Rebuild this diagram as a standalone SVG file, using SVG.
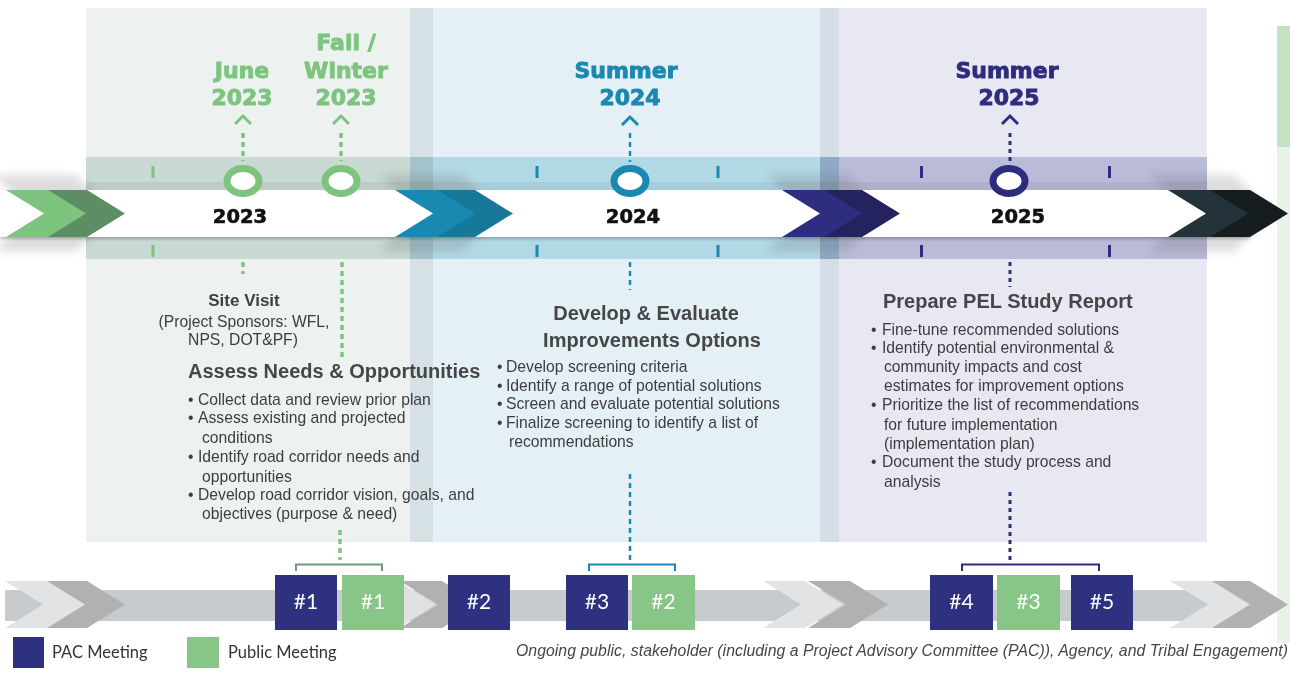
<svg xmlns="http://www.w3.org/2000/svg" width="1290" height="677" viewBox="0 0 1290 677">
<style>
.date{font-family:"DejaVu Sans","Liberation Sans",sans-serif;font-weight:bold;font-size:22px;text-anchor:middle;stroke-width:0.9px;paint-order:stroke}
.year{font-family:"DejaVu Sans","Liberation Sans",sans-serif;font-weight:bold;font-size:19.5px;text-anchor:middle;fill:#111;stroke:#111;stroke-width:0.6px}
.head{font-family:"Liberation Sans",Arial,sans-serif;font-weight:bold;font-size:20px;fill:#464646}
.sub{font-family:"Liberation Sans",Arial,sans-serif;font-weight:bold;font-size:17px;fill:#3f3f3f;text-anchor:middle}
.body{font-family:"Liberation Sans",Arial,sans-serif;font-size:15.7px;fill:#3d3d3d}
.mid{text-anchor:middle}
.g{fill:#7dc47f;stroke:#7dc47f}.b{fill:#1a88b0;stroke:#1a88b0}.p{fill:#2e2c7e;stroke:#2e2c7e}
.tk{stroke:none}
.dg{stroke:#7dc47f;stroke-width:3.5;stroke-dasharray:5 4;fill:none}
.db{stroke:#1a88b0;stroke-width:2.5;stroke-dasharray:5 4;fill:none}
.dp{stroke:#2e2c7e;stroke-width:3;stroke-dasharray:4 4;fill:none}
.hg{stroke:#7dc47f;stroke-width:3;fill:none}
.hb{stroke:#1a88b0;stroke-width:3;fill:none}
.hp{stroke:#2e2c7e;stroke-width:3;fill:none}
.ring{fill:#fff;stroke-width:7}
.pac{fill:#2e3080}.pub{fill:#88c687}
.num{font-family:Lato,"Open Sans",sans-serif;font-size:21px;fill:#fff;text-anchor:middle}
.leg{font-family:Lato,"Open Sans",sans-serif;font-size:16.5px;fill:#333}
.note{font-family:"Liberation Sans",Arial,sans-serif;font-style:italic;font-size:15.8px;fill:#454545}
</style>
<defs>
<path id="chev" d="M0,0 H42 L80,23.5 L42,47 H0 L38,23.5 Z"/>
<path id="chevB" d="M0,0 H42 L80,23.5 L42,47 H0 L38,23.5 Z"/>
<filter id="blur" x="-20%" y="-50%" width="140%" height="200%"><feGaussianBlur stdDeviation="4"/></filter>
<filter id="sh" x="-5%" y="-30%" width="110%" height="160%"><feDropShadow dx="0" dy="2" stdDeviation="1.5" flood-color="#000" flood-opacity="0.25"/></filter>
</defs>
<rect width="1290" height="677" fill="#fff"/>

<g id="panels">
<rect x="86" y="8" width="324" height="534" fill="#edf1f0"/>
<rect x="410" y="8" width="23" height="534" fill="#d6e1e6"/>
<rect x="433" y="8" width="387" height="534" fill="#e4f0f6"/>
<rect x="820" y="8" width="19" height="534" fill="#d4dde8"/>
<rect x="839" y="8" width="368" height="534" fill="#e8e8f2"/>
<rect x="86" y="157" width="324" height="102" fill="#c9d9d3"/>
<rect x="410" y="157" width="23" height="102" fill="#a3c3cc"/>
<rect x="433" y="157" width="387" height="102" fill="#b2d9e6"/>
<rect x="820" y="157" width="19" height="102" fill="#8eaac6"/>
<rect x="839" y="157" width="368" height="102" fill="#babad9"/>
<rect x="86" y="182" width="1121" height="8" fill="#000" opacity="0.05"/>
<rect x="1277" y="26" width="13" height="121" fill="#c3e1c3"/>
<rect x="1277" y="147" width="13" height="496" fill="#e7f3e7"/>
</g>

<g id="timeline">
<g filter="url(#blur)" opacity="0.22" fill="#666">
<use href="#chev" transform="translate(-6,175) scale(1,1.62)"/>
<use href="#chev" transform="translate(34,175) scale(1,1.62)"/>
<use href="#chev" transform="translate(380,175) scale(1,1.62)"/>
<use href="#chev" transform="translate(420,175) scale(1,1.62)"/>
<use href="#chev" transform="translate(767,175) scale(1,1.62)"/>
<use href="#chev" transform="translate(805,175) scale(1,1.62)"/>
<use href="#chev" transform="translate(1150,175) scale(1,1.62)"/>
<use href="#chev" transform="translate(1192,175) scale(1,1.62)"/>
</g>
<rect x="0" y="190" width="1250" height="47" fill="#fff" filter="url(#sh)"/>
<use href="#chev" x="45" y="190" fill="#5d8d62"/>
<use href="#chev" x="6" y="190" fill="#7dc47f"/>
<use href="#chev" x="433" y="190" fill="#17789a"/>
<use href="#chev" x="395" y="190" fill="#1a89b1"/>
<use href="#chev" x="820" y="190" fill="#24235f"/>
<use href="#chev" x="782" y="190" fill="#2f2d80"/>
<use href="#chev" x="1208" y="190" fill="#151d20"/>
<use href="#chev" x="1168" y="190" fill="#24333a"/>
<rect x="151.5" y="166" width="3" height="12" class="g tk"/>
<rect x="151.5" y="245" width="3" height="12" class="g tk"/>
<rect x="535.5" y="166" width="3" height="12" class="b tk"/>
<rect x="535.5" y="245" width="3" height="12" class="b tk"/>
<rect x="716.5" y="166" width="3" height="12" class="b tk"/>
<rect x="716.5" y="245" width="3" height="12" class="b tk"/>
<rect x="920" y="166" width="3" height="12" class="p tk"/>
<rect x="920" y="245" width="3" height="12" class="p tk"/>
<rect x="1108" y="166" width="3" height="12" class="p tk"/>
<rect x="1108" y="245" width="3" height="12" class="p tk"/>
<text x="240" y="223" class="year">2023</text>
<text x="633" y="223" class="year">2024</text>
<text x="1018" y="223" class="year">2025</text>
</g>

<g id="connectors">
<line x1="243" y1="133" x2="243" y2="161" class="dg"/>
<polyline points="235,124 243,116 251,124" class="hg"/>
<line x1="341" y1="133" x2="341" y2="161" class="dg"/>
<polyline points="333,124 341,116 349,124" class="hg"/>
<line x1="630" y1="133" x2="630" y2="162" class="db"/>
<polyline points="622,125 630,117 638,125" class="hb"/>
<line x1="1010" y1="133" x2="1010" y2="161" class="dp"/>
<polyline points="1002,124 1010,116 1018,124" class="hp"/>
<line x1="243" y1="262" x2="243" y2="274" class="dg"/>
<line x1="342" y1="262" x2="342" y2="359" class="dg"/>
<line x1="340" y1="530" x2="340" y2="560" class="dg"/>
<line x1="630" y1="262" x2="630" y2="290" class="db"/>
<line x1="630" y1="474" x2="630" y2="564" class="db"/>
<line x1="1010" y1="262" x2="1010" y2="287" class="dp"/>
<line x1="1010" y1="492" x2="1010" y2="563" class="dp"/>
<path d="M296,571 V564.5 H382 V571" stroke="#6a9e72" stroke-width="2" fill="none"/>
<path d="M589,571 V564.5 H675 V571" stroke="#1a88b0" stroke-width="2" fill="none"/>
<path d="M962,571 V564.5 H1099 V571" stroke="#2e2c7e" stroke-width="2" fill="none"/>
</g>

<g id="ring-june2023"><ellipse cx="243" cy="181" rx="16" ry="12.5" class="ring" stroke="#7dc47f"/>
<text x="242" y="78" class="date g">June</text><text x="242" y="105" class="date g">2023</text></g>
<g id="ring-fall2023"><ellipse cx="341" cy="181" rx="16" ry="12.5" class="ring" stroke="#7dc47f"/>
<text x="346" y="50" class="date g">Fall /</text><text x="346" y="78" class="date g">Winter</text><text x="346" y="105" class="date g">2023</text></g>
<g id="ring-summer2024"><ellipse cx="630" cy="181" rx="16" ry="12.5" class="ring" stroke="#1a88b0"/>
<text x="626" y="78" class="date b">Summer</text><text x="630" y="105" class="date b">2024</text></g>
<g id="ring-summer2025"><ellipse cx="1009" cy="181" rx="16" ry="12.5" class="ring" stroke="#2e2c7e"/>
<text x="1007" y="78" class="date p">Summer</text><text x="1009" y="105" class="date p">2025</text></g>

<g id="site-visit">
<text x="244" y="306" class="sub">Site Visit</text>
<text x="244" y="327" class="body mid">(Project Sponsors: WFL,</text>
<text x="243" y="345" class="body mid">NPS, DOT&amp;PF)</text>
</g>

<g id="assess">
<text x="188" y="378" class="head">Assess Needs &amp; Opportunities</text>
<text class="body">
<tspan x="188" y="405">•</tspan><tspan x="198" y="405">Collect data and review prior plan</tspan>
<tspan x="188" y="423">•</tspan><tspan x="198" y="423">Assess existing and projected</tspan>
<tspan x="202" y="443">conditions</tspan>
<tspan x="188" y="462">•</tspan><tspan x="198" y="462">Identify road corridor needs and</tspan>
<tspan x="202" y="482">opportunities</tspan>
<tspan x="188" y="500">•</tspan><tspan x="198" y="500">Develop road corridor vision, goals, and</tspan>
<tspan x="202" y="519">objectives (purpose &amp; need)</tspan>
</text>
</g>

<g id="develop">
<text x="646" y="320" class="head mid">Develop &amp; Evaluate</text>
<text x="652" y="347" class="head mid">Improvements Options</text>
<text class="body">
<tspan x="497" y="372">•</tspan><tspan x="506" y="372">Develop screening criteria</tspan>
<tspan x="497" y="391">•</tspan><tspan x="506" y="391">Identify a range of potential solutions</tspan>
<tspan x="497" y="409">•</tspan><tspan x="506" y="409">Screen and evaluate potential solutions</tspan>
<tspan x="497" y="428">•</tspan><tspan x="506" y="428">Finalize screening to identify a list of</tspan>
<tspan x="509" y="447">recommendations</tspan>
</text>
</g>

<g id="prepare">
<text x="883" y="308" class="head">Prepare PEL Study Report</text>
<text class="body">
<tspan x="871" y="335">•</tspan><tspan x="882" y="335">Fine-tune recommended solutions</tspan>
<tspan x="871" y="353">•</tspan><tspan x="882" y="353">Identify potential environmental &amp;</tspan>
<tspan x="884" y="372">community impacts and cost</tspan>
<tspan x="884" y="391">estimates for improvement options</tspan>
<tspan x="871" y="410">•</tspan><tspan x="882" y="410">Prioritize the list of recommendations</tspan>
<tspan x="884" y="430">for future implementation</tspan>
<tspan x="884" y="449">(implementation plan)</tspan>
<tspan x="871" y="467">•</tspan><tspan x="882" y="467">Document the study process and</tspan>
<tspan x="884" y="487">analysis</tspan>
</text>
</g>

<g id="engagement-bar">
<rect x="5" y="590" width="1245" height="31" fill="#c8cbce"/>
<use href="#chevB" x="45" y="581" fill="#b1b1b1"/>
<use href="#chevB" x="5" y="581" fill="#e1e3e4"/>
<use href="#chevB" x="400" y="581" fill="#b1b1b1"/>
<use href="#chevB" x="356" y="581" fill="#dfe1e2"/>
<use href="#chevB" x="808" y="581" fill="#b1b1b1"/>
<use href="#chevB" x="763" y="581" fill="#e1e3e4"/>
<use href="#chevB" x="1208" y="581" fill="#b1b1b1"/>
<use href="#chevB" x="1170" y="581" fill="#e1e3e4"/>
</g>

<g id="meeting-pac1"><rect x="275" y="575" width="62" height="55" class="pac"/><text x="306" y="609" class="num">#1</text></g>
<g id="meeting-pub1"><rect x="342" y="575" width="62" height="55" class="pub"/><text x="373" y="609" class="num">#1</text></g>
<g id="meeting-pac2"><rect x="448" y="575" width="62" height="55" class="pac"/><text x="479" y="609" class="num">#2</text></g>
<g id="meeting-pac3"><rect x="566" y="575" width="62" height="55" class="pac"/><text x="597" y="609" class="num">#3</text></g>
<g id="meeting-pub2"><rect x="632" y="575" width="63" height="55" class="pub"/><text x="663.5" y="609" class="num">#2</text></g>
<g id="meeting-pac4"><rect x="930" y="575" width="63" height="55" class="pac"/><text x="961.5" y="609" class="num">#4</text></g>
<g id="meeting-pub3"><rect x="997" y="575" width="63" height="55" class="pub"/><text x="1028.5" y="609" class="num">#3</text></g>
<g id="meeting-pac5"><rect x="1071" y="575" width="62" height="55" class="pac"/><text x="1102" y="609" class="num">#5</text></g>

<g id="legend">
<rect x="13" y="637" width="31" height="31" class="pac"/>
<text x="52" y="658" class="leg">PAC Meeting</text>
<rect x="187" y="637" width="32" height="31" class="pub"/>
<text x="228" y="658" class="leg">Public Meeting</text>
<text x="516" y="656" class="note" textLength="772" lengthAdjust="spacing">Ongoing public, stakeholder (including a Project Advisory Committee (PAC)), Agency, and Tribal Engagement)</text>
</g>
</svg>
